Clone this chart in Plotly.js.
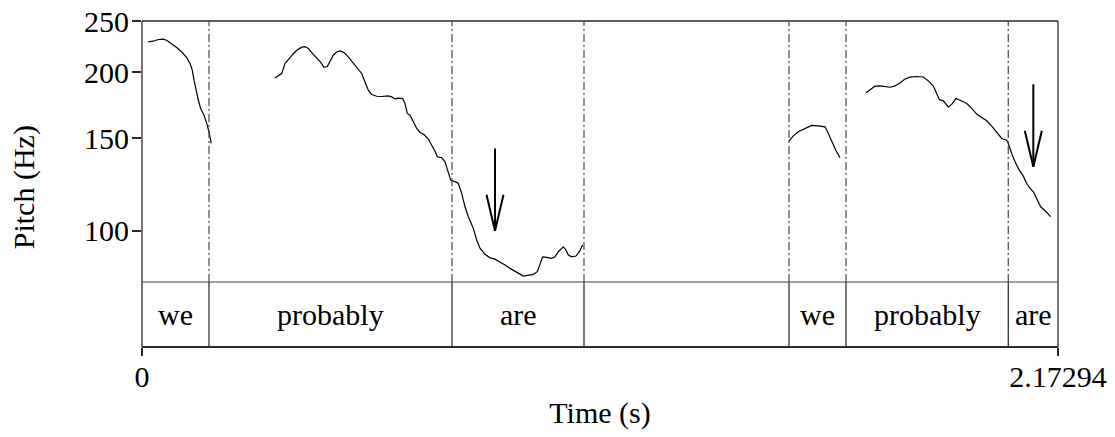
<!DOCTYPE html>
<html>
<head>
<meta charset="utf-8">
<script src="https://cdn.plot.ly/plotly-3.0.1.min.js"></script>
<style>html,body{margin:0;padding:0;background:#fff;}#chart{width:1115px;height:437px;}</style>
</head>
<body>
<div id="chart"></div>
<script>
// ---- Data (time in s, pitch in Hz) ----
const totalDuration = 2.17294;

const seg1Time = [0.0149,0.0268,0.0387,0.0491,0.0586,0.0705,0.0823,0.0942,0.1060,0.1139,0.1193,0.1234,0.1281,0.1336,0.1392,0.1471,0.1535,0.1589,0.1644];
const seg1Pitch = [228.2,228.9,230.6,230.9,229.9,226.6,222.6,218.4,213.1,207.6,201.7,193.1,184.8,176.9,170.6,165.7,159.9,154.1,146.5];

const seg2Time = [0.3155,0.3233,0.3314,0.3392,0.3471,0.3575,0.3670,0.3788,0.3867,0.3945,0.4026,0.4144,0.4239,0.4317,0.4396,0.4460,0.4538,0.4619,0.4697,0.4792,0.4894,0.4998,0.5107,0.5212,0.5290,0.5368,0.5449,0.5568,0.5686,0.5843,0.5923,0.6002,0.6080,0.6184,0.6239,0.6293,0.6358,0.6436,0.6517,0.6595,0.6690,0.6792,0.6872,0.6951,0.7005,0.7110,0.7188,0.7242,0.7290,0.7323,0.7465,0.7503,0.7584,0.7662,0.7741,0.7859,0.7940,0.8018,0.8137,0.8255,0.8374,0.8492,0.8611,0.8730,0.8848,0.8967,0.9045,0.9140,0.9283,0.9377,0.9441,0.9505,0.9600,0.9719,0.9797,0.9876,0.9994,1.0058,1.0113,1.0193,1.0295,1.0374,1.0454];
const seg2Pitch = [195.0,196.7,198.8,207.6,211.5,216.0,220.0,223.0,223.6,221.7,217.8,212.8,208.6,204.3,204.9,209.8,215.3,218.4,219.4,217.8,213.7,208.6,203.7,198.8,191.6,184.8,181.4,180.0,179.8,180.3,179.5,177.9,178.5,178.2,174.4,167.0,165.7,161.0,156.4,153.7,152.3,149.3,145.4,141.6,138.2,137.6,135.2,130.4,126.6,124.8,123.6,123.0,117.8,111.1,106.4,101.1,96.1,92.7,90.3,88.9,88.4,87.4,86.2,84.9,83.7,82.8,82.1,82.4,82.7,83.7,86.2,89.3,89.1,88.7,89.3,91.3,93.3,92.0,90.0,89.3,89.6,91.3,94.0];

const seg3Time = [1.5348,1.5450,1.5569,1.5728,1.5887,1.6043,1.6202,1.6281,1.6361,1.6456,1.6558];
const seg3Pitch = [147.9,151.4,154.1,156.4,158.5,158.2,157.5,153.0,147.5,142.3,137.6];

const seg4Time = [1.7175,1.7270,1.7388,1.7507,1.7625,1.7744,1.7863,1.7981,1.8100,1.8218,1.8378,1.8534,1.8653,1.8771,1.8852,1.8914,1.9009,1.9127,1.9208,1.9310,1.9405,1.9564,1.9682,1.9801,1.9919,2.0038,2.0157,2.0275,2.0394,2.0513,2.0550,2.0631,2.0710,2.0811,2.0906,2.0987,2.1065,2.1144,2.1224,2.1319,2.1421,2.1499,2.1556];
const seg4Pitch = [182.7,185.4,188.1,188.3,187.5,187.2,188.3,190.8,194.1,195.6,196.2,195.8,192.5,188.1,182.2,177.5,176.4,171.8,173.7,178.2,176.9,174.4,170.7,166.5,164.1,161.7,158.0,154.1,149.7,148.6,146.5,140.2,135.2,130.4,127.0,123.0,120.4,118.6,115.2,111.1,109.2,107.6,106.4];

const tierBoundaries = [0, 0.1589, 0.7354, 1.0485, 1.5348, 1.6700, 2.0550, 2.17294];
const tierLabels = ["we", "probably", "are", "", "we", "probably", "are"];

const arrowTime = [0.8374, 2.1144];
const arrowTopPitch = [143.3, 189.7];
const arrowTipPitch = [100.1, 132.3];

const pitchTicks = [100, 150, 200, 250];
const timeTicks = [0, totalDuration];
const timeTickText = ["0", "2.17294"];
const pitchRange = [80, 250];

// ---- Build ----
const FONT = '"Liberation Serif", "Times New Roman", Times, serif';
const segments = [[seg1Time, seg1Pitch],[seg2Time, seg2Pitch],[seg3Time, seg3Pitch],[seg4Time, seg4Pitch]];
const traces = segments.map(s => ({
  type:'scatter', mode:'lines', x:s[0], y:s[1], xaxis:'x', yaxis:'y',
  line:{color:'#000', width:1.2}, hoverinfo:'skip'
}));

// arrow shafts
const ax = [], ay = [];
arrowTime.forEach((t,i) => { ax.push(t,t,null); ay.push(arrowTopPitch[i], arrowTipPitch[i], null); });
traces.push({type:'scatter', mode:'lines', x:ax, y:ay, xaxis:'x', yaxis:'y',
  line:{color:'#000', width:2}, hoverinfo:'skip'});

const DOMAIN_SPLIT = 65/326;
const shapes = [];
// frame
const frameColor = '#2a2a2a';
shapes.push({type:'line', xref:'paper', yref:'paper', x0:0, x1:0, y0:0, y1:1, line:{color:frameColor, width:1.3}});
shapes.push({type:'line', xref:'paper', yref:'paper', x0:1, x1:1, y0:0, y1:1, line:{color:frameColor, width:1.3}});
shapes.push({type:'line', xref:'paper', yref:'paper', x0:0, x1:1, y0:1, y1:1, line:{color:frameColor, width:1.3}});
shapes.push({type:'line', xref:'paper', yref:'paper', x0:0, x1:1, y0:0, y1:0, line:{color:frameColor, width:2.2}});
shapes.push({type:'line', xref:'paper', yref:'paper', x0:0, x1:1, y0:DOMAIN_SPLIT, y1:DOMAIN_SPLIT, line:{color:'#444', width:1.2}});

// interval boundaries
tierBoundaries.slice(1, -1).forEach(b => {
  shapes.push({type:'line', xref:'x', yref:'y domain', x0:b, x1:b, y0:0, y1:1,
    line:{color:'#555', width:1.3, dash:'8px,3px,2px,3px'}});
  shapes.push({type:'line', xref:'x', yref:'y2', x0:b, x1:b, y0:0, y1:1,
    line:{color:'#333', width:1.3}});
});

// arrow heads (open V)
arrowTime.forEach((t,i) => {
  shapes.push({type:'path', xref:'x', yref:'y', xsizemode:'pixel', ysizemode:'pixel',
    xanchor:t, yanchor:arrowTipPitch[i], path:'M -8.5 36 L 0 0 L 8.5 36',
    line:{color:'#000', width:2}});
});

const annotations = [];
tierLabels.forEach((lab,i) => {
  if(!lab) return;
  annotations.push({xref:'x', yref:'y2', x:(tierBoundaries[i]+tierBoundaries[i+1])/2, y:0.5,
    text:lab, showarrow:false, xanchor:'center', yanchor:'middle',
    font:{family:FONT, size:30, color:'#000'}});
});
annotations.push({xref:'paper', yref:'paper', x:(24-142)/916, y:0.49, text:'Pitch (Hz)',
  textangle:-90, showarrow:false, xanchor:'center', yanchor:'middle',
  font:{family:FONT, size:30, color:'#000'}});

const layout = {
  width:1115, height:437,
  margin:{l:142, r:57, t:21, b:90, pad:0},
  paper_bgcolor:'#fff', plot_bgcolor:'#fff',
  showlegend:false,
  font:{family:FONT, size:30, color:'#000'},
  xaxis:{range:[0,totalDuration], anchor:'y2', tickvals:timeTicks, ticktext:timeTickText,
    ticks:'outside', ticklen:8, tickwidth:1.3, tickcolor:frameColor, showgrid:false, zeroline:false, showline:false,
    ticklabelstandoff:-5,
    tickfont:{family:FONT, size:30, color:'#000'},
    title:{text:'Time (s)', font:{family:FONT, size:30, color:'#000'}, standoff:9}},
  yaxis:{type:'log', range:[Math.log10(pitchRange[0]), Math.log10(pitchRange[1])], domain:[DOMAIN_SPLIT,1],
    anchor:'x', tickvals:pitchTicks, ticktext:pitchTicks.map(String), ticks:'outside', ticklen:9, tickwidth:1.3,
    ticklabelstandoff:-3,
    tickcolor:frameColor, showgrid:false, zeroline:false, showline:false,
    tickfont:{family:FONT, size:30, color:'#000'}},
  yaxis2:{domain:[0,DOMAIN_SPLIT], range:[0,1], visible:false, anchor:'x'},
  shapes:shapes, annotations:annotations
};

Plotly.newPlot('chart', traces, layout, {displayModeBar:false, staticPlot:true});
</script>
</body>
</html>
